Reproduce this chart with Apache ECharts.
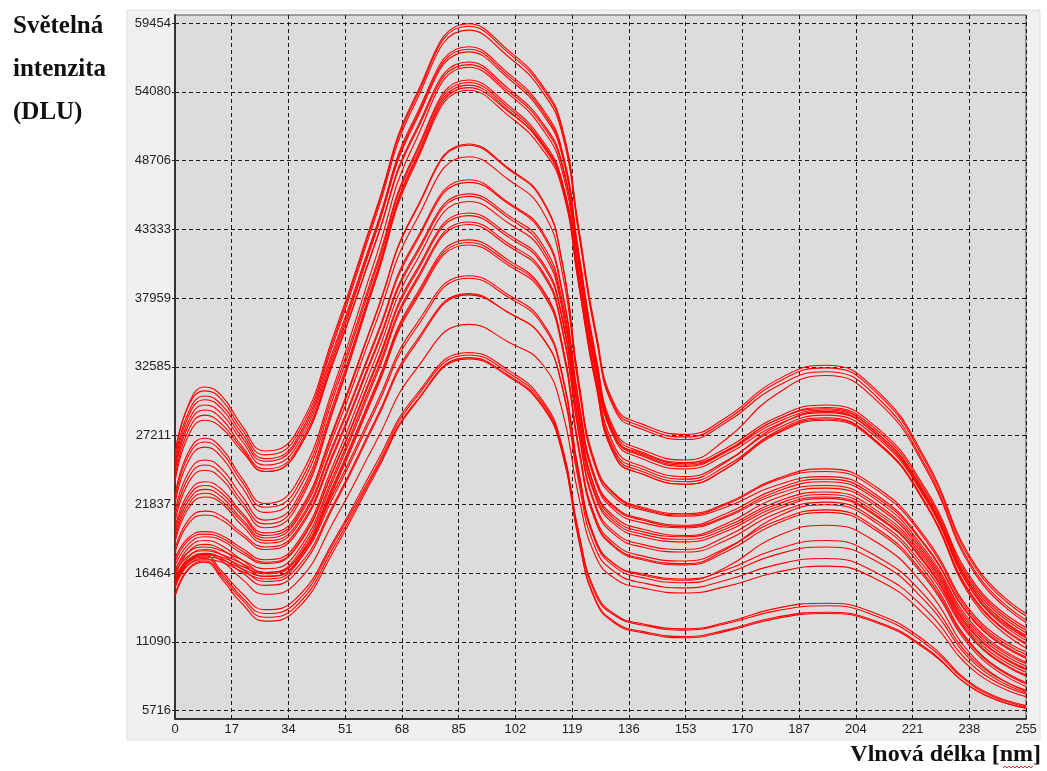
<!DOCTYPE html>
<html>
<head>
<meta charset="utf-8">
<title>Spektra</title>
<script src="https://cdn.jsdelivr.net/npm/echarts@6/dist/echarts.min.js"></script>
<style>
  html, body { margin: 0; padding: 0; background: #fff; }
  #chart { width: 1047px; height: 771px; }
</style>
</head>
<body>
<div id="chart"></div>
<script>
// vlnová délka (osa x) v bodech, kde byly odečteny hodnoty
const wavelengths = [0, 4, 9, 14, 20, 27, 36, 48, 60, 72, 88, 100, 110, 116, 121, 126, 132, 140, 153, 165, 180, 195, 210, 225, 240, 255]
const xTicks = [0, 17, 34, 51, 68, 85, 102, 119, 136, 153, 170, 187, 204, 221, 238, 255]
const yTicks = [5716, 11090, 16464, 21837, 27211, 32585, 37959, 43333, 48706, 54080, 59454]

// nejvyšší svazek křivek
const bandTop = [
  [25500,29600,31000,30300,28000,26000,27300,35400,44700,53700,59400,57300,54600,51300,43400,35500,29500,28100,27300,28600,31500,32700,30800,25300,17000,13300],
  [25800,29500,30700,30000,27700,25700,27000,35100,44500,53500,59200,57100,54400,51100,43200,35300,29300,27900,27100,28400,31300,32500,30600,25100,16800,13100],
  [25200,29000,30300,29600,27400,25400,26700,34800,44200,53200,58900,56800,54100,50800,42900,35100,29100,27700,26900,28200,31000,32200,30300,24800,16500,12800],
  [24800,28700,30000,29300,27100,25200,26500,34300,43300,52100,57600,55500,52800,49500,41500,33600,27500,26100,25300,26900,30400,31900,30000,24600,16300,12600],
  [24500,28300,29600,28900,26800,24900,26200,34000,43100,51900,57400,55300,52600,49300,41300,33400,27300,25900,25100,26200,28600,29600,27900,23000,15500,12200],
  [24200,28000,29200,28500,26400,24600,25900,33700,42900,51700,57200,55100,52400,49100,41100,33200,27100,25700,24900,26000,28400,29400,27700,22800,15300,12000],
  [23800,27600,28800,28100,26200,24400,25700,33400,42300,51000,56400,54300,51700,48500,40700,32900,27000,25600,24800,25900,28200,29200,27500,22600,15100,11800],
  [23500,27200,28400,27800,26000,24400,25700,33300,42200,50800,56200,54100,51500,48300,40500,32700,26800,25400,24600,25700,28000,29000,27300,22400,14900,11600]
]

const bandUpper = [
  [22500,25900,27000,26200,23900,21900,23300,31400,41000,50200,56000,53900,51200,47900,40000,32200,26200,24800,24000,25200,27700,28800,27100,22200,14700,11400],
  [22200,25600,26700,25900,23600,21600,22900,31000,40300,49300,55000,53000,50300,47100,39400,31800,25900,24600,23800,25100,27900,29100,27300,22300,14600,11200],
  [21800,25200,26300,25500,23200,21200,22500,30600,40000,49100,54800,52800,50100,46900,39200,31600,25700,24400,23600,24800,27400,28500,26800,21900,14300,11000],
  [21200,24300,25300,24600,22500,20600,22000,30100,39600,48800,54600,52600,49900,46700,39000,31400,25500,24200,23400,24600,27300,28400,26700,21800,14200,10900],
  [20800,23900,24900,24200,22100,20300,21700,29800,39400,48600,54400,52500,50000,47000,39800,32500,27000,25800,25000,26000,28400,29300,27500,22500,14900,11500],
  [20400,23500,24500,23800,21800,20000,21400,29600,39200,48400,54200,52200,49600,46500,38900,31300,25500,24200,23400,24600,27500,28600,26800,21800,14000,10600]
]

const bandMiddle = [
  [20000,22700,23600,23000,21200,19600,20800,28100,36600,44800,50000,48100,45700,40800,31400,25000,22600,21600,21100,21900,23800,24600,23200,19200,13000,10300],
  [19700,22400,23300,22700,21000,19400,20600,27900,36500,44700,49900,48000,45600,40700,31300,24900,22500,21500,21000,21800,23700,24400,23000,19000,12800,10100],
  [19400,22100,23000,22400,20700,19200,20400,27500,35900,43900,49000,47200,44800,40000,30900,24700,22300,21400,20900,21600,23300,24000,22600,18600,12600,9900],
  [19100,21800,22700,22100,20500,19000,20100,26900,34800,42400,47200,45400,43200,38600,29900,23900,21600,20700,20200,21100,23000,23800,22400,18500,12500,9800],
  [18800,21500,22400,21900,20200,18800,19900,26700,34600,42200,47000,45300,43000,38400,29700,23800,21500,20600,20100,20900,22800,23600,22200,18200,12200,9500],
  [18300,20600,21300,20900,19600,18500,19600,26200,34000,41400,46100,44400,42200,37800,29300,23600,21300,20400,20000,20800,22600,23300,21900,18000,12000,9400],
  [18000,20300,21000,20600,19400,18300,19400,26000,33800,41200,45900,44200,41900,37400,28900,23000,20800,19900,19400,20300,22300,23100,21700,17800,11800,9200]
]

const bandLower = [
  [17600,19200,19700,19400,18400,17500,18600,25300,33200,40700,45500,43800,41600,37100,28700,22900,20600,19700,19300,20100,22000,22800,21400,17600,11600,9000],
  [17300,19000,19500,19200,18200,17300,18400,24900,32600,40000,44600,42900,40800,36500,28200,22600,20400,19500,19100,19900,21800,22600,21200,17400,11500,8900],
  [17000,18700,19300,19000,18000,17200,18300,24800,32400,39800,44400,42700,40600,36300,28000,22400,20200,19300,18900,19700,21600,22400,21000,17200,11300,8700],
  [16700,18100,18500,18200,17500,16800,17900,24400,32000,39300,43900,42200,40100,35700,27500,21800,19600,18700,18300,19300,21400,22300,20900,17100,11100,8500],
  [16400,17800,18200,17900,17200,16500,17600,24100,31700,39100,43700,42000,39900,35500,27300,21600,19400,18500,18100,19000,21100,22000,20600,16800,11000,8400],
  [16100,17500,17900,17700,17000,16400,17400,23700,31000,38100,42500,40900,38700,34400,26200,20600,18500,17600,17200,18300,20800,21800,20400,16500,10500,7900],
  [15900,17300,17700,17500,16800,16200,17200,23500,30800,37900,42300,40700,38600,34400,26300,20800,18700,17800,17400,18400,20500,21400,20000,16200,10400,7800],
  [15700,17100,17500,17300,16600,16000,17000,23300,30600,37700,42100,40500,38400,34100,26000,20500,18400,17500,17100,18100,20300,21200,19800,16000,10200,7600]
]

const bandLowMid = [
  [16500,18400,19000,18600,17500,16500,17400,23000,29500,35800,39700,38200,36100,32100,24400,19100,17100,16300,15900,16900,19300,20200,18900,15300,9700,7200],
  [16200,18100,18700,18300,17200,16200,17100,22700,29200,35500,39500,38000,35900,31900,24200,18900,16900,16100,15700,16400,17900,18500,17400,14200,9300,7100],
  [15800,17700,18300,17900,16800,15800,16700,22100,28400,34500,38300,36800,34900,31000,23500,18400,16500,15700,15300,15900,17100,17600,16500,13600,9000,7000],
  [15500,17400,18000,17600,16500,15500,16400,21900,28200,34300,38200,36800,34900,31100,23900,19000,17100,16400,16000,16700,18300,19000,17800,14600,9500,7300],
  [15300,17300,17900,17400,16000,14800,15600,20700,26600,32300,35900,34500,32800,29200,22400,17800,16000,15300,14900,15400,16500,17000,16000,13100,8700,6800]
]

const bandBottom = [
  [15800,17400,17800,16600,14900,13600,14400,19200,24900,30300,33700,32300,30000,26400,19600,15000,13200,12500,12100,12600,13700,14100,13300,11100,7600,6100],
  [15300,17100,17600,16400,14600,13300,14100,19000,24600,30100,33500,32100,29800,26200,19500,14800,13100,12400,12000,12500,13500,13900,13100,10900,7500,6000],
  [14800,16800,17400,16200,14400,13000,13800,18700,24400,29800,33300,31900,29600,26000,19100,14400,12600,11900,11500,12000,13000,13400,12700,10600,7300,5900],
  [14600,16700,17300,16000,14100,12700,13500,18400,24200,29700,33200,31800,29500,25900,19000,14300,12500,11800,11400,11900,12900,13300,12600,10500,7300,5900]
]

const chart = echarts.init(document.getElementById('chart'))

const spectra = [].concat(bandTop, bandUpper, bandMiddle, bandLower, bandLowMid, bandBottom)

const series = spectra.map(values => ({
  type: 'line',
  xAxisIndex: 1,
  yAxisIndex: 1,
  data: values.map((v, i) => [wavelengths[i], v]),
  smooth: 0.5,
  showSymbol: false,
  clip: false,
  silent: true,
  lineStyle: { color: '#ff0000', width: 1.1 }
}))

const dashed = { color: '#1a1a1a', width: 1, type: [4, 3] }
const plotLeft = 175
const plotWidth = 851

// červená vlnovka pod "nm" (kontrola pravopisu v originále)
const squiggle = []
for (let x = 1003; x <= 1033; x += 2) {
  squiggle.push([x, (x - 1003) % 4 === 0 ? 768 : 766])
}

const option = {
  animation: false,
  backgroundColor: '#ffffff',
  title: {
    text: 'Světelná\nintenzita\n(DLU)',
    left: 8,
    top: 0,
    textStyle: {
      fontFamily: 'Liberation Serif',
      fontWeight: 'bold',
      fontSize: 25,
      lineHeight: 43,
      color: '#111'
    }
  },
  graphic: [
    {
      type: 'rect',
      z: -10,
      shape: { x: 127, y: 10, width: 913, height: 730 },
      style: { fill: '#f0f0f0', stroke: '#d9dee6', lineWidth: 1 }
    },
    {
      type: 'text',
      style: {
        text: 'Vlnová délka [nm]',
        x: 1041,
        y: 755,
        align: 'right',
        verticalAlign: 'middle',
        fontFamily: 'Liberation Serif',
        fontWeight: 'bold',
        fontSize: 24,
        fill: '#111'
      }
    },
    {
      type: 'polyline',
      shape: { points: squiggle },
      style: { stroke: '#e03030', lineWidth: 1, fill: null }
    }
  ],
  grid: [
    {
      left: plotLeft, top: 15, width: plotWidth, height: 704,
      show: true, backgroundColor: '#dcdcdc', borderColor: '#555', borderWidth: 1
    },
    {
      left: plotLeft, top: 23, width: plotWidth, height: 687.5
    }
  ],
  xAxis: [
    {
      gridIndex: 0,
      type: 'value',
      min: xTicks[0],
      max: xTicks[xTicks.length - 1],
      interval: xTicks[1] - xTicks[0],
      axisLine: { show: true, lineStyle: { color: '#333', width: 2 } },
      axisTick: { show: false },
      axisLabel: {
        margin: 4,
        fontFamily: 'Liberation Sans',
        fontSize: 13,
        color: '#222',
        formatter: (v, i) => String(xTicks[i] !== undefined ? xTicks[i] : v)
      },
      splitLine: { show: true, lineStyle: dashed }
    },
    {
      gridIndex: 1,
      type: 'value',
      min: xTicks[0],
      max: xTicks[xTicks.length - 1],
      show: false
    }
  ],
  yAxis: [
    {
      gridIndex: 0,
      type: 'value',
      min: 0,
      max: 1,
      axisLine: { show: true, lineStyle: { color: '#333', width: 2 } },
      axisTick: { show: false },
      axisLabel: { show: false },
      splitLine: { show: false }
    },
    {
      gridIndex: 1,
      type: 'value',
      min: yTicks[0],
      max: yTicks[yTicks.length - 1],
      interval: (yTicks[yTicks.length - 1] - yTicks[0]) / (yTicks.length - 1),
      axisLine: { show: false },
      axisTick: { show: true, length: 3, lineStyle: { color: '#222' } },
      axisLabel: {
        margin: 4,
        fontFamily: 'Liberation Sans',
        fontSize: 13,
        color: '#222',
        formatter: (v, i) => String(yTicks[i] !== undefined ? yTicks[i] : Math.round(v))
      },
      splitLine: { show: true, lineStyle: dashed }
    }
  ],
  series
}

chart.setOption(option)
window.addEventListener('resize', () => chart.resize())
</script>
</body>
</html>
